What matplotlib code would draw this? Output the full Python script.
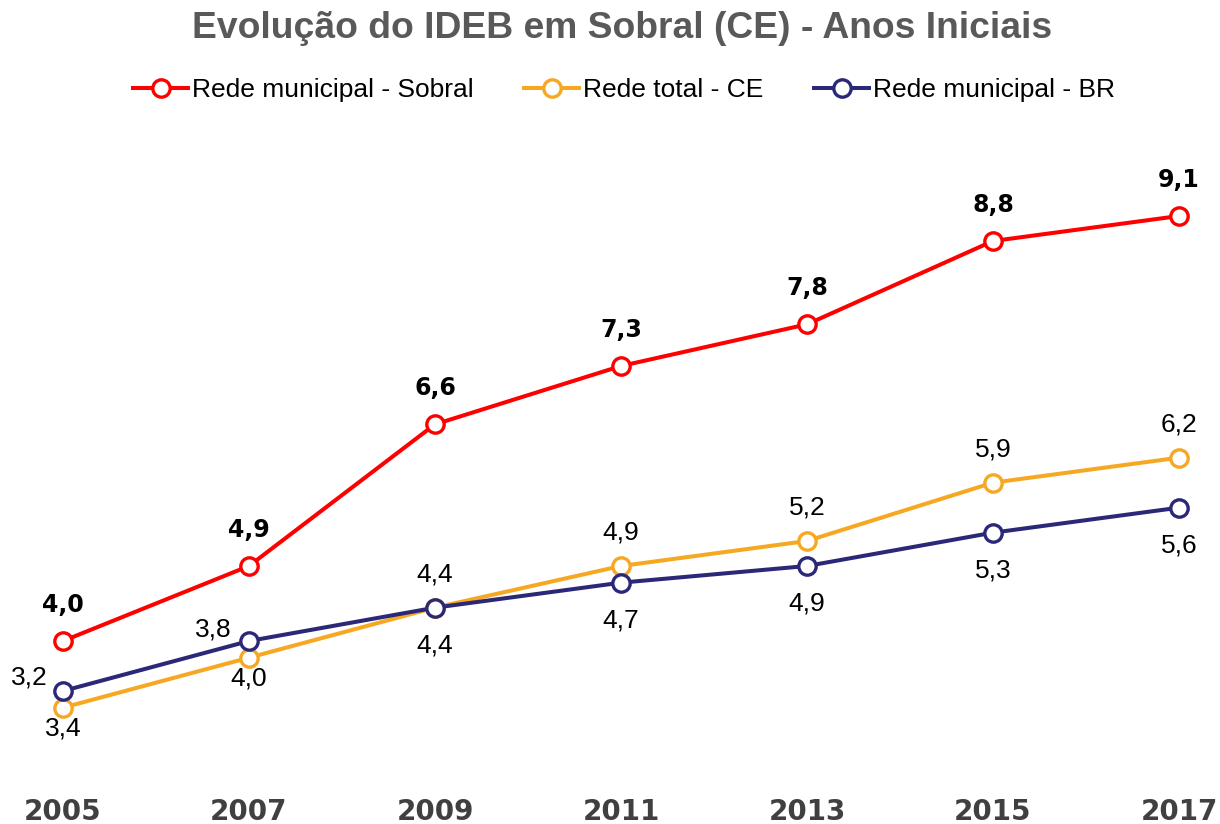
import matplotlib.pyplot as plt

anos = [2005, 2007, 2009, 2011, 2013, 2015, 2017]
sobral = [4.0, 4.9, 6.6, 7.3, 7.8, 8.8, 9.1]
ce_total = [3.2, 3.8, 4.4, 4.9, 5.2, 5.9, 6.2]
br_municipal = [3.4, 4.0, 4.4, 4.7, 4.9, 5.3, 5.6]

cor_sobral = '#FF0000'
cor_ce = '#F7A823'
cor_br = '#2B2878'

plt.rcParams['font.family'] = ['Liberation Sans', 'DejaVu Sans']

W, H = 1220, 824
fig = plt.figure(figsize=(W / 100, H / 100), dpi=100)
# axes box in pixels: left 20, right 1200, top 140, bottom 780
ax = fig.add_axes([20 / W, (H - 780) / H, 1180 / W, 640 / H])
ax.set_xlim(2004.538, 2017.226)
ax.set_ylim(2.332, 10.012)

estilo = dict(lw=2.9, marker='o', ms=12.5, mfc='white', mew=2.4)
ax.plot(anos, sobral, color=cor_sobral, label='Rede municipal - Sobral', zorder=5, **estilo)
ax.plot(anos, ce_total, color=cor_ce, label='Rede total - CE', zorder=3, **estilo)
ax.plot(anos, br_municipal, color=cor_br, label='Rede municipal - BR', zorder=4, **estilo)


def fmt(v):
    return f'{v:.1f}'.replace('.', ',')


for a, v in zip(anos, sobral):
    ax.annotate(fmt(v), (a, v), xytext=(0, 26), textcoords='offset points',
                ha='center', va='center', fontsize=17, fontweight='bold',
                family='DejaVu Sans', color='black')

# first two CE labels pushed left so they clear the BR markers
dx_ce = {2005: -24, 2007: -26}
dy_ce = {2005: 22, 2007: 20}
for a, v in zip(anos, ce_total):
    ax.annotate(fmt(v), (a, v), xytext=(dx_ce.get(a, 0), dy_ce.get(a, 24)),
                textcoords='offset points', ha='center', va='center',
                fontsize=19, color='black')

for a, v in zip(anos, br_municipal):
    ax.annotate(fmt(v), (a, v), xytext=(0, -27), textcoords='offset points',
                ha='center', va='center', fontsize=19, color='black')

ax.set_xticks(anos)
ax.set_xticklabels([str(a) for a in anos], fontsize=20, fontweight='bold',
                   family='DejaVu Sans', color='#404040')
ax.tick_params(axis='x', length=0, pad=13)
ax.set_yticks([])
for s in ax.spines.values():
    s.set_visible(False)

fig.text(622 / W, 1 - 29 / H, 'Evolução do IDEB em Sobral (CE) - Anos Iniciais',
         ha='center', va='center', fontsize=26.8, fontweight='bold', color='#595959')

fig.legend(loc='center', bbox_to_anchor=(624 / W, 1 - 90 / H), ncol=3, frameon=False,
           fontsize=19, handlelength=2.1, handletextpad=0.15, columnspacing=1.9)

fig.savefig('out.png', dpi=100)
